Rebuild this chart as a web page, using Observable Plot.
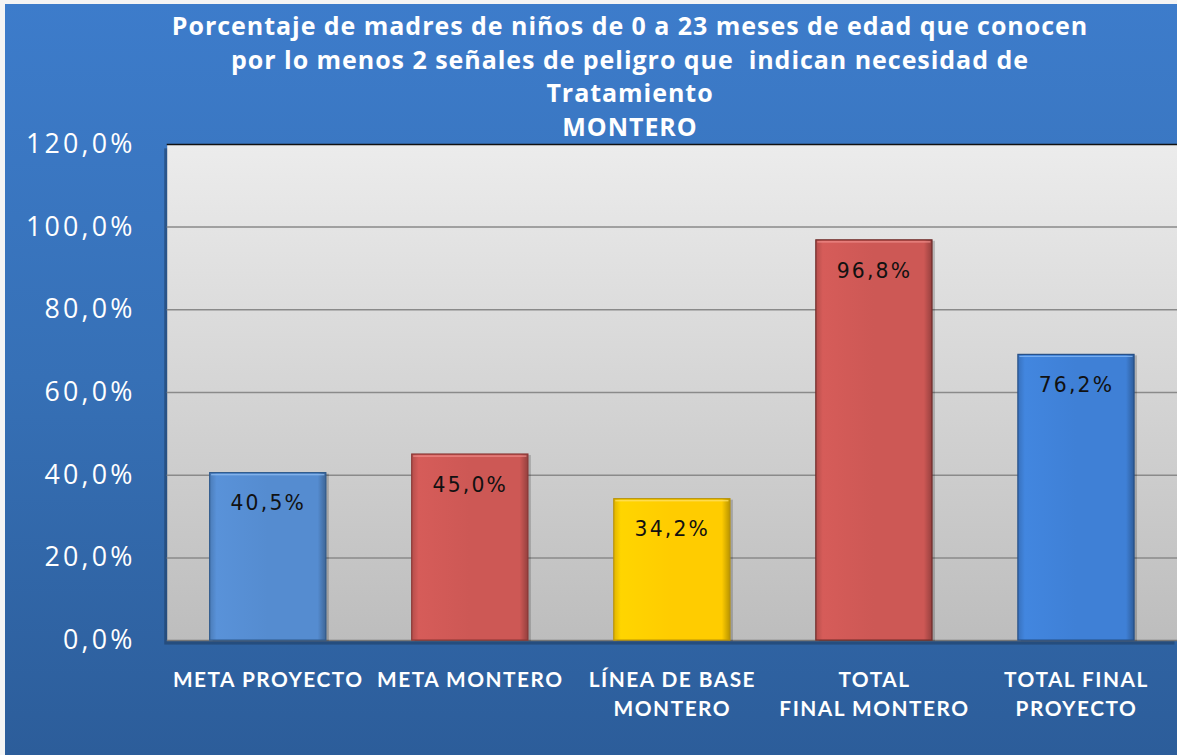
<!DOCTYPE html>
<html>
<head>
<meta charset="utf-8">
<script src="https://cdn.jsdelivr.net/npm/d3@7"></script>
<script src="https://cdn.jsdelivr.net/npm/@observablehq/plot@0.6"></script>
<style>
  html, body { margin: 0; padding: 0; background: #fff; }
  #wrap {
    position: relative; width: 1177px; height: 755px; overflow: hidden;
    background: linear-gradient(to bottom, #3D7CCB 0%, #3670B6 50%, #2C5D9A 100%);
    box-shadow: inset 5px 4px 0 #f4f4f4;
  }
  #title {
    position: absolute; left: 80px; width: 1100px; top: 9px;
    text-align: center; color: #fff; font-family: "Open Sans", Lato, sans-serif;
    font-weight: bold; font-size: 25px; line-height: 33.5px; z-index: 2; white-space: nowrap;
  }
  #chart { position: absolute; left: 0; top: 0; }
</style>
</head>
<body>
<div id="wrap">
  <div id="title"><span id="t1">Porcentaje de madres de niños de 0 a 23 meses de edad que conocen</span><br>por lo menos 2 señales de peligro que&nbsp; indican necesidad de<br>Tratamiento<br>MONTERO</div>
  <div id="chart"></div>
</div>
<script>
// ---- data ----
const categories = ["META PROYECTO", "META MONTERO", "LÍNEA DE BASE\nMONTERO", "TOTAL\nFINAL MONTERO", "TOTAL FINAL\nPROYECTO"];
const values = [40.5, 45.0, 34.2, 96.8, 69.1];          // bar heights as drawn
const valueLabels = ["40,5%", "45,0%", "34,2%", "96,8%", "76,2%"]; // printed labels
const barColors = ["#558CD0", "#CD5855", "#FFCC00", "#CD5855", "#3F80D6"];
const barHighlights = ["#8DBAF0", "#F29490", "#FFE066", "#F29490", "#7DB2F2"];
const barStrokes = ["#2F5A8C", "#8A3634", "#B8920A", "#6E2B29", "#264F86"];
const yTicks = [0, 20, 40, 60, 80, 100, 120];

// fit title letter-spacing to the reference line width
(function fitTitle() {
  const t1 = document.getElementById("t1");
  const w = t1.getBoundingClientRect().width;
  const n = t1.textContent.length;
  const ls = Math.max(-1, Math.min(2, (916 - w) / n));
  document.getElementById("title").style.letterSpacing = ls.toFixed(2) + "px";
})();

const data = categories.map((c, i) => ({
  cat: c, value: values[i], label: valueLabels[i],
  fill: `url(#bar${i})`, hi: barHighlights[i], stroke: barStrokes[i]
}));

const ns = "http://www.w3.org/2000/svg";
function defsMark() {
  const defs = document.createElementNS(ns, "defs");
  const mk = (id, x2, y2, stops) => {
    const g = document.createElementNS(ns, "linearGradient");
    g.setAttribute("id", id);
    g.setAttribute("x1", "0"); g.setAttribute("y1", "0");
    g.setAttribute("x2", x2); g.setAttribute("y2", y2);
    for (const [o, c] of stops) {
      const s = document.createElementNS(ns, "stop");
      s.setAttribute("offset", o); s.setAttribute("stop-color", c);
      g.appendChild(s);
    }
    defs.appendChild(g);
  };
  mk("plotbg", "0", "1", [["0", "#ECECEC"], ["1", "#BDBDBD"]]);
  barColors.forEach((c, i) => {
    const d = d3.color(c);
    mk(`bar${i}`, "1", "0", [
      ["0", d.darker(0.35).formatHex()],
      ["0.06", d.brighter(0.12).formatHex()],
      ["0.5", c],
      ["0.93", c],
      ["1", d.darker(0.9).formatHex()]
    ]);
  });
  return defs;
}

const fmt = d => d.toFixed(1).replace(".", ",") + "%";

const plot = Plot.plot({
  width: 1186,
  height: 755,
  marginTop: 145,
  marginBottom: 110,
  marginLeft: 168,
  marginRight: 0,
  style: { background: "transparent", overflow: "visible" },
  x: { domain: categories, paddingInner: 0.425, paddingOuter: 0.2125, round: false, axis: null },
  y: { domain: [0, 120], axis: null },
  color: { type: "identity" },
  marks: [
    defsMark,
    // shadow under plot area
    Plot.frame({ fill: "#1f3f66", fillOpacity: 0.6, stroke: null, dx: -3, dy: 4 }),
    Plot.frame({ fill: "url(#plotbg)", stroke: null }),
    Plot.ruleY(yTicks.filter(t => t > 0 && t < 120), { stroke: "#8A8A8A", strokeWidth: 1.5 }),
    Plot.ruleY([120], { stroke: "#111", strokeWidth: 1.5 }),
    Plot.ruleY([0], { stroke: "#777", strokeWidth: 1.5 }),
    Plot.axisY({
      ticks: yTicks, tickFormat: fmt, tickSize: 0, tickPadding: 32,
      fontSize: 27, fill: "#fff", fontFamily: "'Open Sans', sans-serif", label: null
    }),
    // bar shadow
    Plot.barY(data, { x: "cat", y: "value", fill: "#000", fillOpacity: 0.18, dx: 3, dy: 1 }),
    Plot.barY(data, { x: "cat", y: "value", fill: "fill", stroke: "stroke", strokeWidth: 1.2 }),
    // top bevel highlight
    Plot.barY(data, { x: "cat", y1: d => d.value - 1.0, y2: "value", fill: "hi", inset: 1.5, fillOpacity: 0.9 }),
    Plot.text(data, {
      x: "cat", y: "value", text: "label", dy: 31, fill: "#111",
      fontSize: 20.5, fontFamily: "'DejaVu Sans', sans-serif"
    }),
    Plot.text(categories, {
      x: d => d, text: d => d, frameAnchor: "bottom", lineAnchor: "top", dy: 26,
      lineHeight: 1.4, fill: "#fff", fontSize: 21, fontWeight: "bold",
      fontFamily: "Lato, 'Open Sans', sans-serif"
    })
  ]
});
// letter-spacing to mimic the wide rendering of the original
const sel = d3.select(plot);
sel.selectAll('[aria-label="y-axis tick label"] text').style("letter-spacing", "3.2px");
const valSet = new Set(valueLabels);
sel.selectAll("text").each(function () {
  const t = this.textContent;
  if (valSet.has(t)) d3.select(this).style("letter-spacing", "2.2px");
  else if (this.querySelector("tspan") || /^[A-ZÍ ]+$/.test(t)) d3.select(this).style("letter-spacing", "1.5px");
});
document.getElementById("chart").appendChild(plot);
</script>
</body>
</html>
